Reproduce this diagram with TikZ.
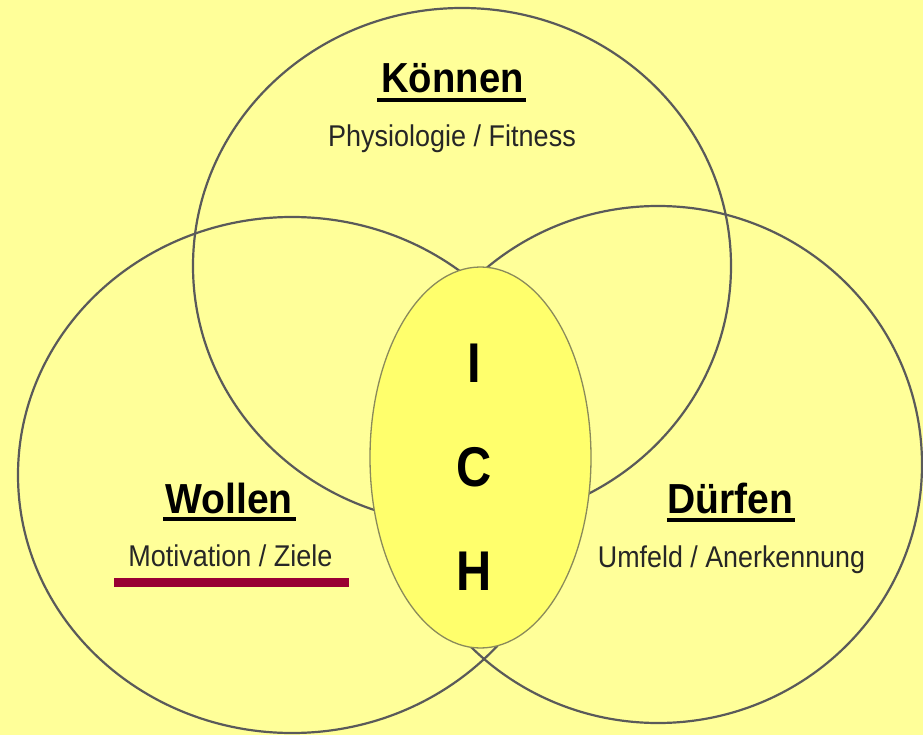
\documentclass[tikz,border=0pt]{standalone}
\usepackage{fontspec}
\setmainfont{Liberation Sans}
\usetikzlibrary{shapes.geometric}
\definecolor{bg}{HTML}{FFFF99}
\definecolor{ichfill}{HTML}{FFFF6C}
\definecolor{ringc}{HTML}{5A5A5A}
\definecolor{ichline}{HTML}{8A8A5A}
\definecolor{barc}{HTML}{990033}
\tikzset{
  ring/.style={ellipse, draw=ringc, line width=2.2pt, inner sep=0pt, outer sep=0pt},
  head/.style={anchor=base, inner sep=0pt, font=\fontsize{42}{42}\selectfont\bfseries, text=black},
  sub/.style={anchor=base, inner sep=0pt, font=\fontsize{30}{30}\selectfont, text=black!85},
  letter/.style={anchor=base, inner sep=0pt, font=\fontsize{56}{56}\selectfont\bfseries, text=black},
  uline/.style={line width=4.5pt, draw=black}
}
\begin{document}
\begin{tikzpicture}[x=1pt,y=-1pt]
\fill[bg] (0,0) rectangle (923,735);
\useasboundingbox (0,0) rectangle (923,735);
% three rings
\node[ring, minimum width=538pt, minimum height=516pt] (kc) at (462,266) {};
\node[ring, minimum width=548pt, minimum height=516pt] (wc) at (292,475) {};
\node[ring, minimum width=528pt, minimum height=517pt] (dc) at (658,464.5) {};
% central ellipse
\node[ellipse, draw=ichline, line width=1.3pt, fill=ichfill, minimum width=221pt, minimum height=381pt, inner sep=0pt] (ich) at (480.5,457.5) {};
% ICH letters
\node[letter] (li) at (474,382) {\scalebox{0.87}[1]{I}};
\node[letter] (lc) at (474.5,486) {\scalebox{0.87}[1]{C}};
\node[letter] (lh) at (474.5,590) {\scalebox{0.87}[1]{H}};
% Koennen
\node[head] (kt) at (452.5,93) {\scalebox{0.91}[1]{Können}};
\draw[uline] ([xshift=-4pt,yshift=-7pt]kt.base west) -- ([xshift=2pt,yshift=-7pt]kt.base east);
\node[sub] (ks) at (452,147) {\scalebox{0.9}[1]{Physiologie / Fitness}};
% Wollen
\node[head] (wt) at (229,513) {\scalebox{0.93}[1]{Wollen}};
\draw[uline] ([xshift=-2pt,yshift=-6pt]wt.base west) -- ([xshift=3pt,yshift=-6pt]wt.base east);
\node[sub] (ws) at (230.5,566) {\scalebox{0.9}[1]{Motivation / Ziele}};
\fill[barc] ([xshift=-14pt,yshift=-12pt]ws.base west) rectangle ([xshift=16pt,yshift=-21pt]ws.base east);
% Duerfen
\node[head] (dt) at (730,513) {\scalebox{0.93}[1]{Dürfen}};
\draw[uline] ([xshift=0pt,yshift=-7pt]dt.base west) -- ([xshift=2pt,yshift=-7pt]dt.base east);
\node[sub] (ds) at (731.5,567) {\scalebox{0.895}[1]{Umfeld / Anerkennung}};
\end{tikzpicture}
\end{document}
